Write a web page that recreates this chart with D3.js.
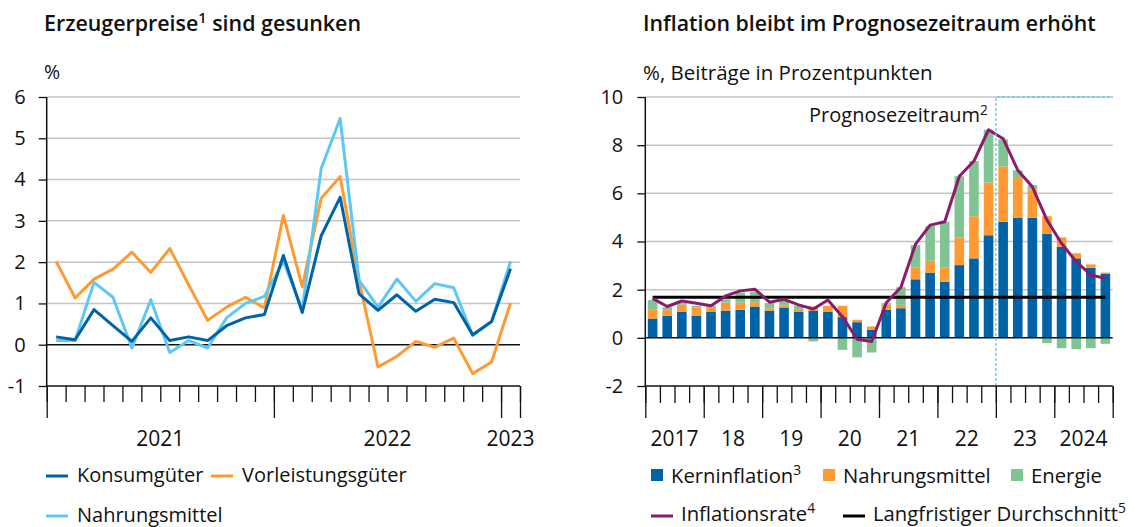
<!DOCTYPE html>
<html><head><meta charset="utf-8">
<script src="https://cdn.jsdelivr.net/npm/d3@7"></script>
<style>
body{margin:0;background:#fff;}
svg text{font-family:"Open Sans",sans-serif;fill:#111;}
</style></head>
<body><svg id="c" width="1137" height="527"></svg>
<script>
// ---------- Left chart data (monthly, Jan 2021 - Jan 2023) ----------
const months = d3.range(25);
const konsumgueter = [0.19,0.12,0.85,0.46,0.08,0.65,0.10,0.19,0.10,0.46,0.65,0.73,2.16,0.78,2.64,3.57,1.23,0.83,1.21,0.81,1.10,1.02,0.24,0.56,1.84];
const vorleistungsgueter = [2.02,1.13,1.59,1.83,2.24,1.75,2.33,1.45,0.59,0.91,1.15,0.89,3.13,1.40,3.55,4.07,1.55,-0.54,-0.28,0.08,-0.06,0.16,-0.70,-0.42,1.01];
const nahrungsmittelPP = [0.10,0.10,1.51,1.15,-0.08,1.09,-0.19,0.10,-0.08,0.65,1.00,1.17,2.02,0.85,4.27,5.48,1.56,0.91,1.59,1.05,1.48,1.38,0.22,0.56,2.02];
const leftYTicks = [-1,0,1,2,3,4,5,6];
const leftYearLabels = ["2021","2022","2023"];
const leftYearPos = [6,18,24.5];
const leftYearBounds = [0,12,24,25];

// ---------- Right chart data (quarterly, 2017Q1 - 2024Q4) ----------
const quarters = d3.range(32);
const kerninflation = [0.80,0.92,1.09,0.92,1.09,1.13,1.17,1.30,1.13,1.26,1.09,1.13,1.09,0.86,0.65,0.33,1.16,1.23,2.43,2.71,2.33,3.02,3.30,4.26,4.82,4.98,4.98,4.31,3.78,3.30,2.91,2.65];
const nahrungsmittel = [0.39,0.23,0.28,0.34,0.18,0.33,0.29,0.18,0.10,0.09,0.11,0.17,0.24,0.47,0.10,0.14,0.21,0.14,0.48,0.49,0.60,1.15,1.75,2.19,2.30,1.70,1.18,0.74,0.39,0.21,0.14,0.06];
const energie = [0.38,0.12,0.07,0.07,0.06,0.14,0.42,0.44,0.21,0.20,0.13,-0.15,0.00,-0.50,-0.81,-0.61,0.07,0.73,0.94,1.44,1.89,2.54,2.29,2.19,1.12,0.28,0.18,-0.22,-0.43,-0.47,-0.43,-0.25];
const inflationsrate = [1.64,1.30,1.53,1.44,1.33,1.74,1.95,2.02,1.48,1.60,1.37,1.20,1.57,0.88,-0.06,-0.15,1.46,2.10,3.89,4.68,4.82,6.71,7.34,8.64,8.27,6.96,6.27,4.89,3.92,3.16,2.61,2.47];
const langfristigerDurchschnitt = 1.68;
const forecastStart = 24; // 2023Q1
const rightYTicks = [-2,0,2,4,6,8,10];
const rightYearLabels = ["2017","18","19","20","21","22","23","2024"];

const C = {dark:"#0063a6", light:"#5ec8f2", orange:"#ff9a33", green:"#80c493", purple:"#8c1b6c", grid:"#c4c4c4"};

const svg = d3.select("#c");
const fmt = d => String(d);

function sup(sel, main, s, rest){
  sel.append("tspan").text(main);
  sel.append("tspan").attr("font-size","0.68em").attr("dy","-0.55em").text(s);
  if(rest){ sel.append("tspan").attr("dy","0.374em").text(rest); }
}

// ================= LEFT CHART =================
const xL = d3.scaleLinear().domain([0,25]).range([46.7,520]);
const yL = d3.scaleLinear().domain([-1,6]).range([386,97]);
const gL = svg.append("g");

sup(gL.append("text").attr("x",44).attr("y",31).attr("font-size",21.4).attr("font-weight",600), "Erzeugerpreise","1"," sind gesunken");
gL.append("text").attr("x",44).attr("y",79).attr("font-size",19.5).text("%");

gL.append("g").selectAll("line").data(leftYTicks.filter(d=>d>0)).join("line")
  .attr("x1",xL(0)).attr("x2",xL(25)).attr("y1",d=>yL(d)).attr("y2",d=>yL(d))
  .attr("stroke",C.grid).attr("stroke-width",1.5);

const yAxL = gL.append("g").attr("transform",`translate(${xL(0)},0)`)
  .call(d3.axisLeft(yL).tickValues(leftYTicks).tickSize(8).tickPadding(13).tickFormat(fmt));
yAxL.select(".domain").remove();
yAxL.selectAll("line").attr("stroke","#111").attr("stroke-width",1.3);
yAxL.selectAll("text").attr("font-size",20).attr("font-family","Open Sans").attr("fill","#111");
gL.append("line").attr("x1",xL(0)).attr("x2",xL(0)).attr("y1",yL(6)).attr("y2",yL(-1)).attr("stroke","#111").attr("stroke-width",1.5);
gL.append("line").attr("x1",xL(0)).attr("x2",xL(25)).attr("y1",yL(0)).attr("y2",yL(0)).attr("stroke","#111").attr("stroke-width",1.5);

const xAxL = gL.append("g").attr("transform",`translate(0,${yL(-1)})`)
  .call(d3.axisBottom(xL).tickValues(d3.range(26)).tickSize(16).tickFormat(""));
xAxL.select(".domain").attr("stroke","#111").attr("stroke-width",1.5).attr("d",`M${xL(0)},0H${xL(25)}`);
xAxL.selectAll("line").attr("stroke","#111").attr("stroke-width",1.3);
const xAxL2 = gL.append("g").attr("transform",`translate(0,${yL(-1)})`)
  .call(d3.axisBottom(xL).tickValues(leftYearBounds).tickSize(32).tickFormat(""));
xAxL2.select(".domain").remove();
xAxL2.selectAll("line").attr("stroke","#111").attr("stroke-width",1.3);
gL.selectAll("text.yl").data(leftYearLabels).join("text").attr("class","yl")
  .attr("x",(d,i)=>xL(leftYearPos[i])).attr("y",446).attr("text-anchor","middle").attr("font-size",21).text(d=>d);

const lineL = (arr)=> d3.line().x((d,i)=>xL(i+0.5)).y(d=>yL(d))(arr);
[[vorleistungsgueter,C.orange],[nahrungsmittelPP,C.light],[konsumgueter,C.dark]].forEach(([arr,col])=>{
  gL.append("path").attr("d",lineL(arr)).attr("fill","none").attr("stroke",col).attr("stroke-width",3).attr("stroke-linejoin","round");
});

// left legend
const legL = [
  {t:"Konsumgüter",c:C.dark,x:46,y:476},
  {t:"Vorleistungsgüter",c:C.orange,x:211,y:476},
  {t:"Nahrungsmittel",c:C.light,x:46,y:516}
];
legL.forEach(d=>{
  gL.append("line").attr("x1",d.x).attr("x2",d.x+22).attr("y1",d.y).attr("y2",d.y).attr("stroke",d.c).attr("stroke-width",3);
  gL.append("text").attr("x",d.x+31).attr("y",d.y+6).attr("font-size",20).text(d.t);
});

// ================= RIGHT CHART =================
const xR = d3.scaleLinear().domain([0,32]).range([645.3,1112.7]);
const yR = d3.scaleLinear().domain([-2,10]).range([386,97]);
const gR = svg.append("g");

gR.append("text").attr("x",643).attr("y",31).attr("font-size",21.3).attr("font-weight",600).text("Inflation bleibt im Prognosezeitraum erhöht");
gR.append("text").attr("x",643).attr("y",80).attr("font-size",20.5).text("%, Beiträge in Prozentpunkten");

gR.append("g").selectAll("line").data(rightYTicks.filter(d=>d!==0 && d!==-2)).join("line")
  .attr("x1",xR(0)).attr("x2",xR(32)).attr("y1",d=>yR(d)).attr("y2",d=>yR(d))
  .attr("stroke",C.grid).attr("stroke-width",1.5);

// stacked bars
const rows = quarters.map(i=>({i, core:kerninflation[i], food:nahrungsmittel[i], energy:energie[i]}));
const stack = d3.stack().keys(["core","food","energy"]).offset(d3.stackOffsetDiverging)(rows);
const cols = {core:C.dark, food:C.orange, energy:C.green};
const bw = 9.6;
stack.forEach(layer=>{
  gR.append("g").selectAll("rect").data(layer).join("rect")
    .attr("x",d=>xR(d.data.i+0.5)-bw/2).attr("width",bw)
    .attr("y",d=>yR(Math.max(d[0],d[1]))).attr("height",d=>Math.abs(yR(d[0])-yR(d[1])))
    .attr("fill",cols[layer.key]);
});

const yAxR = gR.append("g").attr("transform",`translate(${xR(0)},0)`)
  .call(d3.axisLeft(yR).tickValues(rightYTicks).tickSize(8).tickPadding(14).tickFormat(fmt));
yAxR.select(".domain").remove();
yAxR.selectAll("line").attr("stroke","#111").attr("stroke-width",1.3);
yAxR.selectAll("text").attr("font-size",20).attr("font-family","Open Sans").attr("fill","#111");
gR.append("line").attr("x1",xR(0)).attr("x2",xR(0)).attr("y1",yR(10)).attr("y2",yR(-2)).attr("stroke","#111").attr("stroke-width",1.5);
gR.append("line").attr("x1",xR(0)).attr("x2",xR(32)).attr("y1",yR(0)).attr("y2",yR(0)).attr("stroke","#111").attr("stroke-width",1.5);

// long-term average
gR.append("line").attr("x1",xR(0.5)).attr("x2",xR(31.5)).attr("y1",yR(langfristigerDurchschnitt)).attr("y2",yR(langfristigerDurchschnitt))
  .attr("stroke","#000").attr("stroke-width",3);
// inflation line
gR.append("path").attr("d",d3.line().x((d,i)=>xR(i+0.5)).y(d=>yR(d))(inflationsrate))
  .attr("fill","none").attr("stroke",C.purple).attr("stroke-width",3).attr("stroke-linejoin","round");

// forecast frame
gR.append("path").attr("d",`M${xR(forecastStart)},${yR(-2)}V${yR(10)}H${xR(32)}`)
  .attr("fill","none").attr("stroke",C.light).attr("stroke-width",1.3).attr("stroke-dasharray","3,2");
sup(gR.append("text").attr("x",xR(forecastStart)-8).attr("y",122).attr("text-anchor","end").attr("font-size",20), "Prognosezeitraum","2");

const xAxR = gR.append("g").attr("transform",`translate(0,${yR(-2)})`)
  .call(d3.axisBottom(xR).tickValues(d3.range(33)).tickSize(17).tickFormat(""));
xAxR.select(".domain").attr("stroke","#111").attr("stroke-width",1.5).attr("d",`M${xR(0)},0H${xR(32)}`);
xAxR.selectAll("line").attr("stroke","#111").attr("stroke-width",1.3);
const xAxR2 = gR.append("g").attr("transform",`translate(0,${yR(-2)})`)
  .call(d3.axisBottom(xR).tickValues(d3.range(0,33,4)).tickSize(32).tickFormat(""));
xAxR2.select(".domain").remove();
xAxR2.selectAll("line").attr("stroke","#111").attr("stroke-width",1.3);
gR.selectAll("text.yr").data(rightYearLabels).join("text").attr("class","yr")
  .attr("x",(d,i)=>xR(i*4+2)).attr("y",446).attr("text-anchor","middle").attr("font-size",21).text(d=>d);

// right legend
const legR1 = [
  {t:"Kerninflation",s:"3",c:C.dark,x:651},
  {t:"Nahrungsmittel",s:"",c:C.orange,x:823},
  {t:"Energie",s:"",c:C.green,x:1011}
];
legR1.forEach(d=>{
  gR.append("rect").attr("x",d.x).attr("y",469).attr("width",12).attr("height",12).attr("fill",d.c);
  const t = gR.append("text").attr("x",d.x+20).attr("y",483).attr("font-size",20.3);
  if(d.s) sup(t,d.t,d.s); else t.text(d.t);
});
const legR2 = [
  {t:"Inflationsrate",s:"4",c:C.purple,x:651},
  {t:"Langfristiger Durchschnitt",s:"5",c:"#000",x:843}
];
legR2.forEach(d=>{
  gR.append("line").attr("x1",d.x).attr("x2",d.x+22).attr("y1",516).attr("y2",516).attr("stroke",d.c).attr("stroke-width",3);
  sup(gR.append("text").attr("x",d.x+30).attr("y",521).attr("font-size",20.3),d.t,d.s);
});
</script></body></html>
